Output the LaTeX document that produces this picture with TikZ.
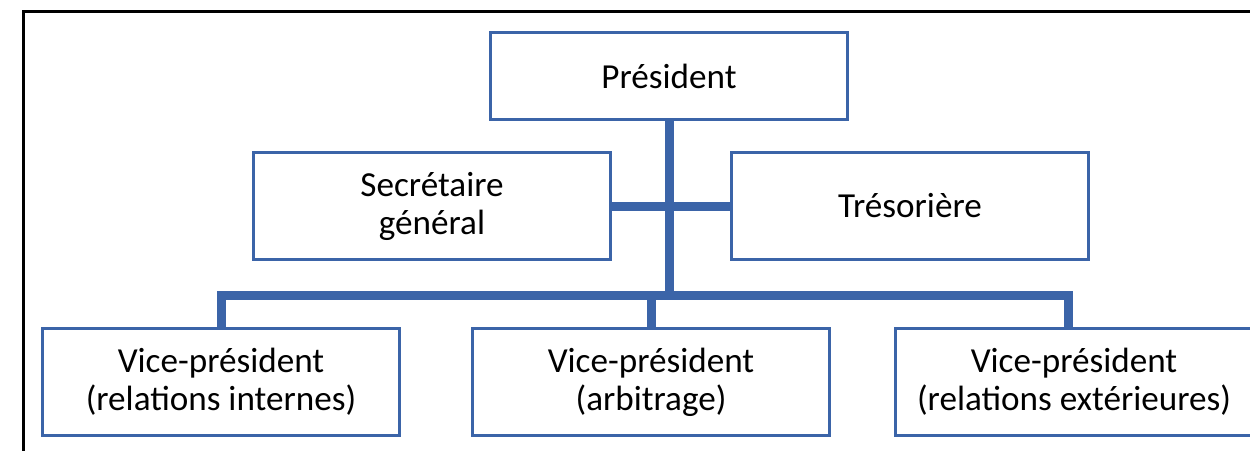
\documentclass[tikz,border=0pt]{standalone}
\usepackage{fontspec}
\setmainfont{Carlito}
\usepackage{tikz,xcolor}
\definecolor{chart blue}{RGB}{59,100,168}
\tikzstyle{post} = [draw=chart blue, line width=0.06cm, fill=white, align=center,
    minimum width=7.16cm, minimum height=2.16cm, inner sep=0pt,
    font=\fontsize{20}{21.6}\selectfont]
\tikzset{link/.style={draw=chart blue, line width=0.18cm},
    frame/.style={draw=black, line width=0.06cm}}

\begin{document}
\begin{tikzpicture}[x=0.02cm, y=-0.02cm]
    % Definition of the page
    \useasboundingbox (0,0) rectangle (1250,450);
    \clip (0,0) rectangle (1250,450);
    \draw[frame] (23.5,470) |- (1270,11.7);
    %
    \node[post, minimum height=1.76cm] (pres) at (669,76) {Président};
    \node[post] (sec) at (432,206) {Secrétaire\\général};
    \node[post] (tres) at (910,206) {Trésorière};
    \node[post] (vpint) at (221,382) {Vice-président\\(relations internes)};
    \node[post] (vparb) at (651,382) {Vice-président\\(arbitrage)};
    \node[post] (vpext) at (1074,382) {Vice-président\\(relations extérieures)};
    %
    \coordinate (bus) at (669,295.5);
    \coordinate (extdrop) at (1068.5,328);
    \draw[link] (pres.south) -- (bus);
    \draw[link] (sec.east) -- (tres.west);
    \draw[link] (vpint.north) |- (extdrop |- bus) -- (extdrop);
    \draw[link] (vparb.north) -- (vparb.north |- bus);
\end{tikzpicture}
\end{document}
